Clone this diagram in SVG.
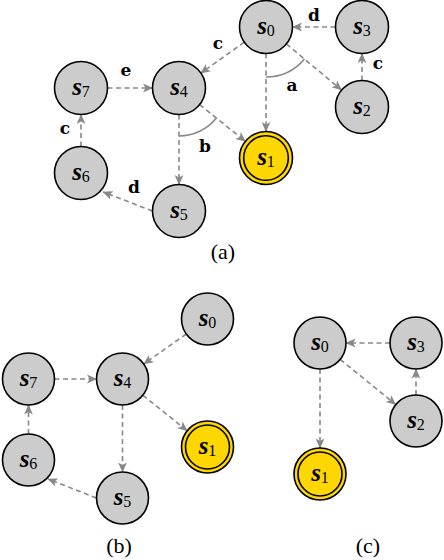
<svg xmlns="http://www.w3.org/2000/svg" width="444" height="560" viewBox="0 0 444 560">
<style>
.n{fill:#cccccc;stroke:#000;stroke-width:1.6}
.acc{fill:#FFD700;stroke:#000;stroke-width:1.6}
.e{fill:none;stroke:#888;stroke-width:1.6;stroke-dasharray:5,3.5;marker-end:url(#arr)}
.arc{fill:none;stroke:#888;stroke-width:1.6}
text{fill:#000;text-anchor:middle}
</style>
<defs>
<marker id="arr" viewBox="0 0 10 10" refX="9.5" refY="5" markerWidth="10" markerHeight="10" markerUnits="userSpaceOnUse" orient="auto">
<path d="M0,0.6 L10,5 L0,9.4 L2.5,5 z" fill="#888"/>
</marker>
</defs>

<g id="connectors">
<!-- (a) -->
<path class="e" d="M335.5,27 L292.5,27"/>
<path class="e" d="M244.3,42.2 L200.7,73.2"/>
<path class="e" d="M286.4,44 L341.6,90"/>
<path class="e" d="M266,53.5 L266,131.5"/>
<path class="e" d="M362,80.5 L362,53.5"/>
<path class="e" d="M107.5,88 L152.5,88"/>
<path class="e" d="M199.6,104.6 L245.4,141.4"/>
<path class="e" d="M179,114.5 L179,184.5"/>
<path class="e" d="M81,146.5 L81,114.5"/>
<path class="e" d="M152.5,211 L103,192"/>
<path class="arc" d="M266,77 A50,50 0 0 0 304.4,59"/>
<path class="arc" d="M179,136 A48,48 0 0 0 216.4,118"/>
<!-- (b) -->
<path class="e" d="M186.3,334 L143.7,364"/>
<path class="e" d="M54.5,379 L96.5,379"/>
<path class="e" d="M142.8,395.2 L187.2,430.8"/>
<path class="e" d="M122.5,405 L122.5,472"/>
<path class="e" d="M28.5,434 L28.5,405"/>
<path class="e" d="M96.5,498 L48,479"/>
<!-- (c) -->
<path class="e" d="M390,343 L346,343"/>
<path class="e" d="M340.2,359.4 L395.8,404.6"/>
<path class="e" d="M416,395 L416,369"/>
<path class="e" d="M320,369 L320,448"/>
</g>

<g id="edge-labels" font-family="DejaVu Serif, serif" font-weight="bold" font-size="17">
<text x="314" y="21">d</text>
<text x="218" y="49">c</text>
<text x="292" y="91">a</text>
<text x="378" y="69">c</text>
<text x="126" y="76">e</text>
<text x="65" y="134">c</text>
<text x="205" y="152">b</text>
<text x="134" y="193">d</text>
</g>

<g font-family="Liberation Serif, serif">
<!-- (a) nodes -->
<g id="a-s0"><circle class="n" cx="266" cy="27" r="26.5"/><text x="266" y="34"><tspan font-size="25" font-style="italic" font-weight="bold">s</tspan><tspan font-size="16" dy="2">0</tspan></text></g>
<g id="a-s3"><circle class="n" cx="362" cy="27" r="26.5"/><text x="362" y="34"><tspan font-size="25" font-style="italic" font-weight="bold">s</tspan><tspan font-size="16" dy="2">3</tspan></text></g>
<g id="a-s2"><circle class="n" cx="362" cy="107" r="26.5"/><text x="362" y="114"><tspan font-size="25" font-style="italic" font-weight="bold">s</tspan><tspan font-size="16" dy="2">2</tspan></text></g>
<g id="a-s7"><circle class="n" cx="81" cy="88" r="26.5"/><text x="81" y="95"><tspan font-size="25" font-style="italic" font-weight="bold">s</tspan><tspan font-size="16" dy="2">7</tspan></text></g>
<g id="a-s4"><circle class="n" cx="179" cy="88" r="26.5"/><text x="179" y="95"><tspan font-size="25" font-style="italic" font-weight="bold">s</tspan><tspan font-size="16" dy="2">4</tspan></text></g>
<g id="a-s1"><circle class="acc" cx="266" cy="158" r="26.5"/><circle class="acc" cx="266" cy="158" r="22.3"/><text x="266" y="165"><tspan font-size="25" font-style="italic" font-weight="bold">s</tspan><tspan font-size="16" dy="2">1</tspan></text></g>
<g id="a-s6"><circle class="n" cx="81" cy="173" r="26.5"/><text x="81" y="180"><tspan font-size="25" font-style="italic" font-weight="bold">s</tspan><tspan font-size="16" dy="2">6</tspan></text></g>
<g id="a-s5"><circle class="n" cx="179" cy="211" r="26.5"/><text x="179" y="218"><tspan font-size="25" font-style="italic" font-weight="bold">s</tspan><tspan font-size="16" dy="2">5</tspan></text></g>
<text x="223" y="259" font-size="22">(a)</text>

<!-- (b) nodes -->
<g id="b-s0"><circle class="n" cx="207.5" cy="319" r="26"/><text x="207.5" y="326"><tspan font-size="25" font-style="italic" font-weight="bold">s</tspan><tspan font-size="16" dy="2">0</tspan></text></g>
<g id="b-s7"><circle class="n" cx="28.5" cy="379" r="26"/><text x="28.5" y="386"><tspan font-size="25" font-style="italic" font-weight="bold">s</tspan><tspan font-size="16" dy="2">7</tspan></text></g>
<g id="b-s4"><circle class="n" cx="122.5" cy="379" r="26"/><text x="122.5" y="386"><tspan font-size="25" font-style="italic" font-weight="bold">s</tspan><tspan font-size="16" dy="2">4</tspan></text></g>
<g id="b-s1"><circle class="acc" cx="207.5" cy="447" r="26"/><circle class="acc" cx="207.5" cy="447" r="22"/><text x="207.5" y="454"><tspan font-size="25" font-style="italic" font-weight="bold">s</tspan><tspan font-size="16" dy="2">1</tspan></text></g>
<g id="b-s6"><circle class="n" cx="28.5" cy="460" r="26"/><text x="28.5" y="467"><tspan font-size="25" font-style="italic" font-weight="bold">s</tspan><tspan font-size="16" dy="2">6</tspan></text></g>
<g id="b-s5"><circle class="n" cx="122.5" cy="498" r="26"/><text x="122.5" y="505"><tspan font-size="25" font-style="italic" font-weight="bold">s</tspan><tspan font-size="16" dy="2">5</tspan></text></g>
<text x="119" y="553" font-size="22">(b)</text>

<!-- (c) nodes -->
<g id="c-s0"><circle class="n" cx="320" cy="343" r="26"/><text x="320" y="350"><tspan font-size="25" font-style="italic" font-weight="bold">s</tspan><tspan font-size="16" dy="2">0</tspan></text></g>
<g id="c-s3"><circle class="n" cx="416" cy="343" r="26"/><text x="416" y="350"><tspan font-size="25" font-style="italic" font-weight="bold">s</tspan><tspan font-size="16" dy="2">3</tspan></text></g>
<g id="c-s2"><circle class="n" cx="416" cy="421" r="26"/><text x="416" y="428"><tspan font-size="25" font-style="italic" font-weight="bold">s</tspan><tspan font-size="16" dy="2">2</tspan></text></g>
<g id="c-s1"><circle class="acc" cx="320" cy="474" r="26"/><circle class="acc" cx="320" cy="474" r="22"/><text x="320" y="481"><tspan font-size="25" font-style="italic" font-weight="bold">s</tspan><tspan font-size="16" dy="2">1</tspan></text></g>
<text x="368" y="553" font-size="22">(c)</text>
</g>
</svg>
